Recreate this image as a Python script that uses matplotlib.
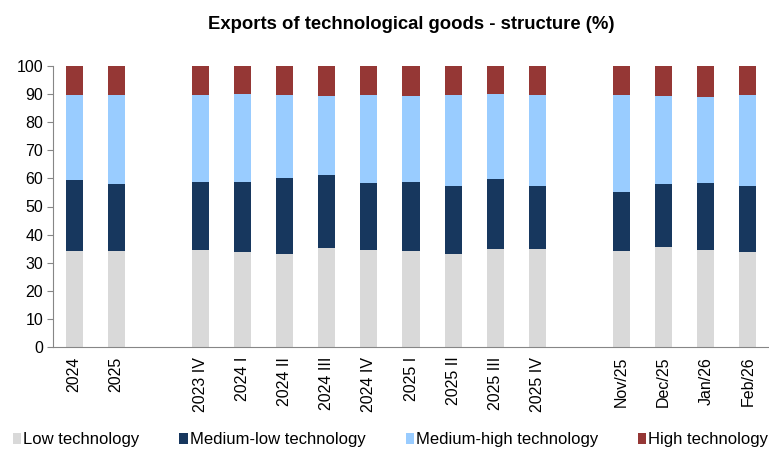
import matplotlib
matplotlib.use("Agg")
from matplotlib import pyplot as plt
import numpy as np

plt.rcParams['font.family'] = ['Liberation Sans', 'DejaVu Sans']

# categories (None = empty slot between groups)
labels = ['2024', '2025', None,
          '2023 IV', '2024 I', '2024 II', '2024 III', '2024 IV',
          '2025 I', '2025 II', '2025 III', '2025 IV', None,
          'Nov/25', 'Dec/25', 'Jan/26', 'Feb/26']

# cumulative tops (%)
low_top = [34.3, 34.3, 34.5, 33.7, 33.2, 35.3, 34.6, 34.0, 33.2, 35.0, 35.0,
           34.3, 35.7, 34.4, 33.9]
mlow_top = [59.5, 58.1, 58.7, 58.7, 60.1, 61.1, 58.5, 58.6, 57.2, 59.7, 57.2,
            55.2, 57.9, 58.2, 57.3]
mhigh_top = [89.7, 89.7, 89.7, 89.9, 89.7, 89.3, 89.8, 89.2, 89.7, 90.2, 89.7,
             89.8, 89.4, 89.1, 89.8]

low = np.array(low_top)
mlow = np.array(mlow_top) - low
mhigh = np.array(mhigh_top) - np.array(mlow_top)
high = 100 - np.array(mhigh_top)

series = [('Low technology', low, '#D9D9D9'),
          ('Medium-low technology', mlow, '#17375E'),
          ('Medium-high technology', mhigh, '#99CCFF'),
          ('High technology', high, '#953735')]

pos = np.array([i for i, l in enumerate(labels) if l is not None])
ticklabels = [l for l in labels if l is not None]

fig = plt.figure(figsize=(7.69, 4.50), dpi=100)
ax = fig.add_axes([53/769, 1-347/450, 1-53/769, (347-66)/450])

bottom = np.zeros(len(pos))
for name, vals, col in series:
    ax.bar(pos, vals, 0.405, bottom=bottom, color=col, label=name)
    bottom += vals

ax.set_xlim(-0.5, len(labels) - 0.5)
ax.set_ylim(0, 100)
ax.set_yticks(range(0, 101, 10))
ax.set_xticks(pos)
ax.set_xticklabels(ticklabels, rotation=90, fontsize=11.5)
ax.tick_params(axis='y', labelsize=11.5, length=4, color='#868686', pad=3)
ax.tick_params(axis='x', length=0, pad=7)
for s in ['top', 'right']:
    ax.spines[s].set_visible(False)
for s in ['left', 'bottom']:
    ax.spines[s].set_color('#868686')

fig.suptitle('Exports of technological goods - structure (%)', fontsize=13.3,
             fontweight='bold', x=0.535, y=0.965)

fig.legend(loc='lower center', ncol=4, frameon=False, fontsize=12,
           handlelength=0.5, handleheight=0.6, handletextpad=0.12,
           columnspacing=2.4, borderpad=0.2, bbox_to_anchor=(0.508, -0.02))

fig.savefig('out.png', dpi=100)
